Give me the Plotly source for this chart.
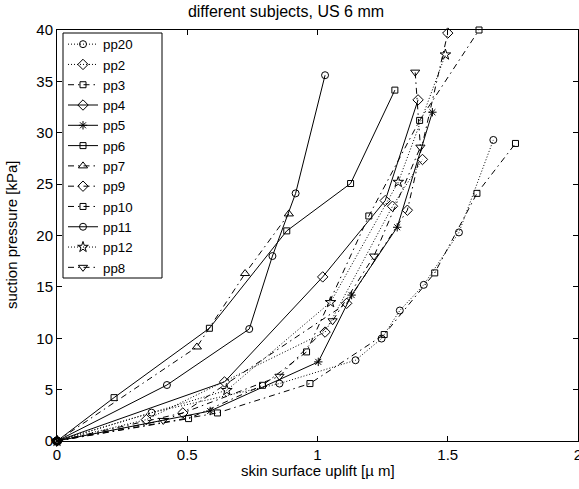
import plotly.graph_objects as go

# ---- data ----
pp20_x = [0, 0.363, 0.854, 1.146, 1.246, 1.316, 1.408, 1.543, 1.675]
pp20_y = [0, 2.76, 5.59, 7.86, 9.97, 12.7, 15.2, 20.3, 29.3]

pp2_x = [0, 0.343, 1.029, 1.288, 1.403]
pp2_y = [0, 2.08, 10.6, 22.85, 27.4]

pp3_x = [0, 0.616, 0.971, 1.256, 1.45, 1.612, 1.76]
pp3_y = [0, 2.73, 5.59, 10.36, 16.36, 24.1, 28.96]

pp4_x = [0, 0.643, 1.02, 1.26, 1.386]
pp4_y = [0, 5.75, 15.97, 23.4, 33.2]

pp5_x = [0, 0.588, 1.003, 1.131, 1.306, 1.441]
pp5_y = [0, 2.92, 7.7, 14.2, 20.8, 32.0]

pp6_x = [0, 0.219, 0.585, 0.882, 1.127, 1.297]
pp6_y = [0, 4.22, 10.97, 20.45, 25.06, 34.15]

pp7_x = [0, 0.537, 0.722, 0.89]
pp7_y = [0, 9.15, 16.3, 22.1]

pp9_x = [0, 0.483, 1.112, 1.345, 1.5]
pp9_y = [0, 2.73, 13.4, 22.46, 39.7]

pp10_x = [0, 0.505, 0.789, 0.958, 1.197, 1.392, 1.62]
pp10_y = [0, 2.18, 5.42, 8.67, 21.9, 31.2, 40.0]

pp11_x = [0, 0.422, 0.738, 0.827, 0.916, 1.029]
pp11_y = [0, 5.45, 10.9, 18.0, 24.1, 35.6]

pp12_x = [0, 0.652, 1.05, 1.31, 1.491]
pp12_y = [0, 4.94, 13.5, 25.2, 37.6]

pp8_x = [0, 0.408, 0.854, 1.058, 1.217, 1.395, 1.375]
pp8_y = [0, 2.0, 6.3, 11.7, 18.0, 28.6, 35.9]

x_ticks = [0, 0.5, 1, 1.5, 2]
x_tick_labels = ["0", "0.5", "1", "1.5", "2"]
y_ticks = [0, 5, 10, 15, 20, 25, 30, 35, 40]

FONT = "Liberation Sans, Arial, Helvetica, sans-serif"
DOT = "1px,2px"
DASHDOT = "6px,4px,1.5px,4px"

series = [
    ("pp20", pp20_x, pp20_y, DOT, "circle-open", 7),
    ("pp2", pp2_x, pp2_y, DOT, "diamond-open", 8),
    ("pp3", pp3_x, pp3_y, DASHDOT, "square-open", 6),
    ("pp4", pp4_x, pp4_y, "solid", "diamond-open", 8),
    ("pp5", pp5_x, pp5_y, "solid", "asterisk-open", 7),
    ("pp6", pp6_x, pp6_y, "solid", "square-open", 6),
    ("pp7", pp7_x, pp7_y, DASHDOT, "triangle-up-open", 8),
    ("pp9", pp9_x, pp9_y, DASHDOT, "diamond-open", 8),
    ("pp10", pp10_x, pp10_y, DASHDOT, "square-open", 6),
    ("pp11", pp11_x, pp11_y, "solid", "circle-open", 7),
    ("pp12", pp12_x, pp12_y, DOT, "star-open", 8),
    ("pp8", pp8_x, pp8_y, DASHDOT, "triangle-down-open", 8),
]

fig = go.Figure()
for name, xs, ys, dash, sym, sz in series:
    fig.add_trace(go.Scatter(
        x=xs, y=ys, name=name, mode="lines+markers",
        line=dict(color="black", width=1, dash=dash),
        marker=dict(symbol=sym, size=sz, color="black", line=dict(color="black", width=1)),
        cliponaxis=False,
    ))

W, H = 579, 489
L, R, T, B = 57, 1, 30, 48
pw = W - L - R
ph = H - T - B

def px_x(p):
    return (p - L) / pw

def px_y(p):
    return (H - B - p) / ph

fig.update_layout(
    width=W, height=H,
    margin=dict(l=L, r=R, t=T, b=B, pad=0),
    paper_bgcolor="white", plot_bgcolor="white",
    font=dict(family=FONT, size=15, color="black"),
    title=dict(text="different subjects, US 6 mm", x=286 / W, xref="container",
               xanchor="center", y=1 - 11 / H, yref="container", yanchor="middle",
               font=dict(family=FONT, size=16, color="black")),
    xaxis=dict(range=[0, 2], tickvals=x_ticks, ticktext=x_tick_labels,
               showline=True, linecolor="black", linewidth=1, mirror="ticks",
               ticks="inside", ticklen=5, tickwidth=1, tickcolor="black",
               showgrid=False, zeroline=False, automargin=False,
               ticklabeloverflow="allow",
               tickfont=dict(family=FONT, size=15), ticklabelstandoff=0),
    yaxis=dict(range=[0, 40], tickvals=y_ticks,
               showline=True, linecolor="black", linewidth=1, mirror="ticks",
               ticks="inside", ticklen=5, tickwidth=1, tickcolor="black",
               showgrid=False, zeroline=False, automargin=False,
               ticklabeloverflow="allow",
               tickfont=dict(family=FONT, size=15), ticklabelstandoff=0),
    showlegend=True,
    legend=dict(x=px_x(63), y=px_y(29), xanchor="left", yanchor="top",
                bgcolor="rgba(0,0,0,0)", borderwidth=0, maxheight=480,
                font=dict(family=FONT, size=13.3, color="black"),
                tracegroupgap=0),
    shapes=[dict(type="rect", xref="paper", yref="paper",
                 x0=px_x(63), x1=px_x(162), y0=px_y(278), y1=px_y(33),
                 line=dict(color="black", width=1), fillcolor="white", layer="above")],
    annotations=[
        dict(text="skin surface uplift [\u00b5 m]", xref="paper", yref="paper",
             x=px_x(318), y=px_y(471), xanchor="center", yanchor="middle",
             showarrow=False, font=dict(family=FONT, size=15)),
        dict(text="suction pressure [kPa]", xref="paper", yref="paper",
             x=px_x(12), y=px_y(235), xanchor="center", yanchor="middle",
             textangle=-90, showarrow=False, font=dict(family=FONT, size=15)),
    ],
)

fig.write_html("out.html")
